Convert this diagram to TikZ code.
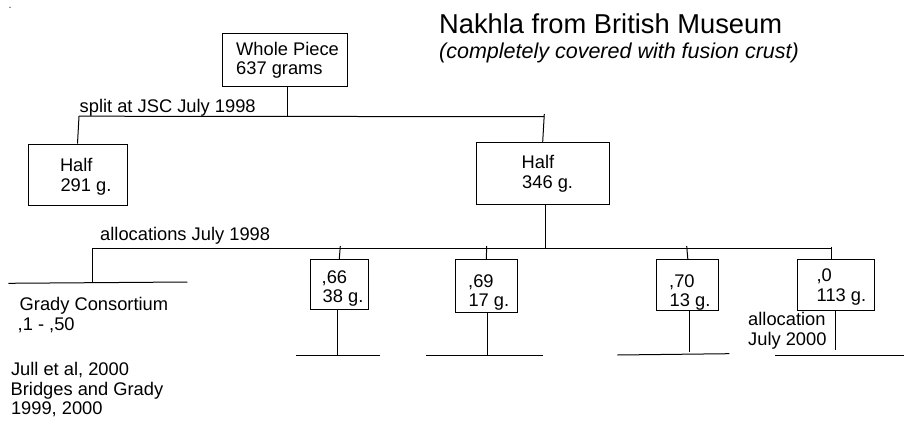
\documentclass[tikz,border=0pt]{standalone}
\usepackage{fontspec}
\setmainfont{Liberation Sans}
\begin{document}
\begin{tikzpicture}[x=1pt,y=-1pt,
  ln/.style={line width=1pt, black},
  box/.style={draw, line width=1pt, inner sep=0pt, rectangle},
  txt/.style={anchor=base west, inner sep=0pt, font=\fontsize{18.3}{20}\selectfont},
  ttl/.style={anchor=base west, inner sep=0pt, font=\fontsize{27.3}{30}\selectfont},
  sub/.style={anchor=base west, inner sep=0pt, font=\itshape\fontsize{21.5}{24}\selectfont}]
\useasboundingbox (0,0) rectangle (906,423);
\fill (10,7.3) circle (0.6);
% title
\node[ttl] (title) at (439,33.3) {Nakhla from British Museum};
\node[sub] (subtitle) at (439,58) {(completely covered with fusion crust)};
% boxes
\node[box, minimum width=125pt, minimum height=52.6pt] (whole) at (285.2,60) {};
\node[box, minimum width=99pt, minimum height=61pt] (half1) at (77.5,174.6) {};
\node[box, minimum width=133.3pt, minimum height=62.7pt] (half2) at (542.7,173.6) {};
\node[box, minimum width=58pt, minimum height=49.7pt] (b66) at (339.3,284.2) {};
\node[box, minimum width=62pt, minimum height=53.4pt] (b69) at (486.3,286) {};
\node[box, minimum width=61.7pt, minimum height=51.4pt] (b70) at (687.8,285) {};
\node[box, minimum width=77.3pt, minimum height=50.7pt] (b0) at (835.7,284.7) {};
% texts
\node[txt] (t1) at (236,55) {Whole Piece};
\node[txt] (t2) at (236,74) {637 grams};
\node[txt] (t3) at (79.5,112.3) {split at JSC July 1998};
\node[txt] (t4) at (59.8,171.7) {Half};
\node[txt] (t5) at (60.3,191.7) {291 g.};
\node[txt] (t6) at (521.5,168.3) {Half};
\node[txt] (t7) at (522,188.3) {346 g.};
\node[txt] (t8) at (100,240.7) {allocations July 1998};
\node[txt] (t9) at (19.5,310) {Grady Consortium};
\node[txt] (t10) at (17.5,330) {,1 - ,50};
\node[txt] (t11) at (10.8,375.7) {Jull et al, 2000};
\node[txt] (t12) at (10.5,395) {Bridges and Grady};
\node[txt] (t13) at (10.8,414.3) {1999, 2000};
\node[txt] (t14) at (321.5,283.3) {,66};
\node[txt] (t15) at (322.5,302.7) {38 g.};
\node[txt] (t16) at (468,287.3) {,69};
\node[txt] (t17) at (468.3,306.7) {17 g.};
\node[txt] (t18) at (669,287.3) {,70};
\node[txt] (t19) at (669.5,306.7) {13 g.};
\node[txt] (t20) at (816.3,281.7) {,0};
\node[txt] (t21) at (816.5,301.7) {113 g.};
\node[txt] (t22) at (748,325) {allocation};
\node[txt] (t23) at (748,345.7) {July 2000};
% connectors
\coordinate (j0) at (287.3,116.7);
\coordinate (sL) at (79,116.2);
\coordinate (sR) at (544.3,116.7);
\coordinate (sRt) at (544.3,114);
\draw[ln] (j0 |- whole.south) -- (j0);
\draw[ln] (sL) -- (sR);
\draw[ln] (sL) -- (half1.north);
\draw[ln] (sRt) -- (half2.north);
\coordinate (a0) at (545.7,248.3);
\coordinate (aL) at (92.3,248.3);
\coordinate (aR) at (831,248.3);
\draw[ln] (a0 |- half2.south) -- (a0);
\draw[ln] (aL) -- (aR);
\coordinate (gB) at (92.3,282.6);
\coordinate (g1) at (8.3,283.3);
\coordinate (g2) at (187.3,282);
\draw[ln] (aL) -- (gB);
\draw[ln] (g1) -- (g2);
% ,66
\coordinate (u66) at (340.3,246);
\coordinate (f66) at (337.7,355);
\coordinate (l66) at (296,355);
\coordinate (r66) at (380,355);
\draw[ln] (u66) -- (b66.north);
\draw[ln] (f66 |- b66.south) -- (f66);
\draw[ln] (l66) -- (r66);
% ,69
\coordinate (u69) at (486.7,246);
\coordinate (f69) at (487.7,355);
\coordinate (l69) at (426,355);
\coordinate (r69) at (542.7,355);
\draw[ln] (u69) -- (b69.north);
\draw[ln] (f69 |- b69.south) -- (f69);
\draw[ln] (l69) -- (r69);
% ,70
\coordinate (u70) at (686.7,246);
\coordinate (f70) at (689.3,351.7);
\coordinate (l70) at (617.3,355);
\coordinate (r70) at (729.3,353.7);
\draw[ln] (u70) -- (b70.north);
\draw[ln] (f70 |- b70.south) -- (f70);
\draw[ln] (l70) -- (r70);
% ,0
\coordinate (u0) at (831,246.5);
\coordinate (f0) at (835.7,350);
\coordinate (l0) at (775,355);
\coordinate (r0) at (904,355);
\draw[ln] (u0) -- (u0 |- b0.north);
\draw[ln] (f0 |- b0.south) -- (f0);
\draw[ln] (l0) -- (r0);
\end{tikzpicture}
\end{document}
